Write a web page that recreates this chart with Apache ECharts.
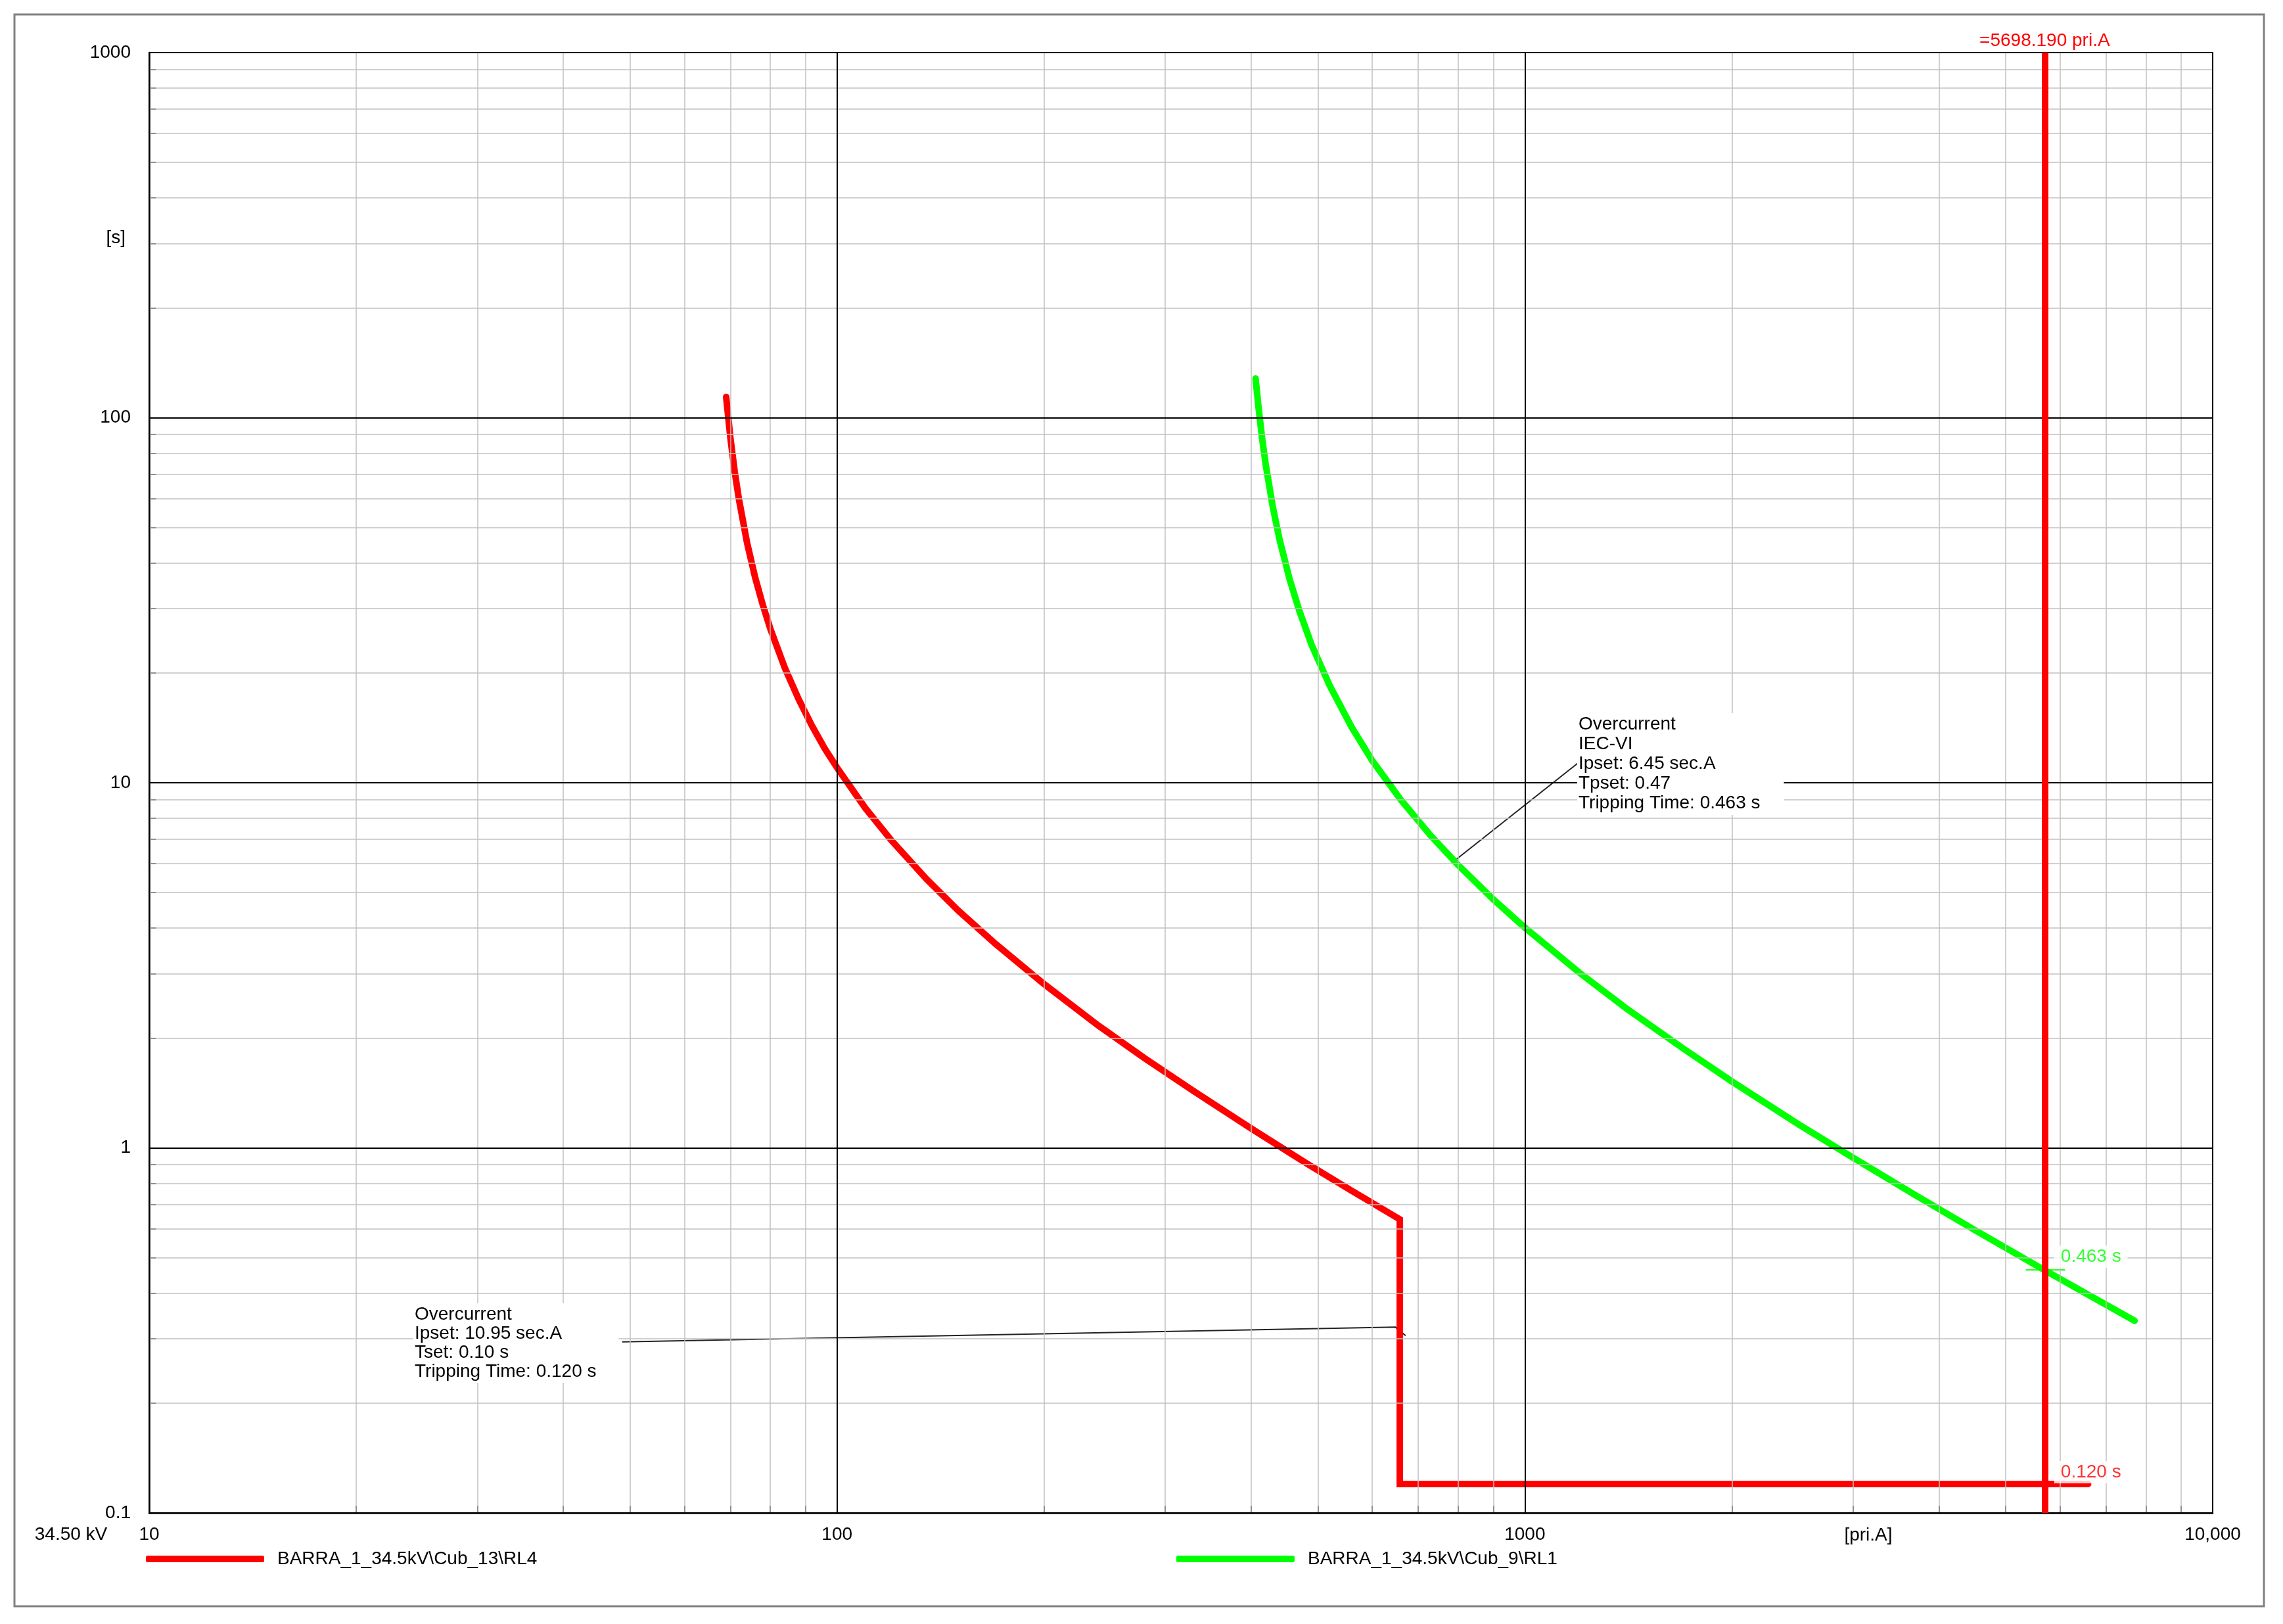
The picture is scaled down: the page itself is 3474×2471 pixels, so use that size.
<!DOCTYPE html>
<html>
<head>
<meta charset="utf-8">
<title>Coordinación de sobrecorriente</title>
<script src="https://cdn.jsdelivr.net/npm/echarts@6/dist/echarts.min.js"></script>
<style>
  html, body { margin: 0; padding: 0; background: #fff; }
  #chart { width: 3474px; height: 2471px; }
</style>
</head>
<body>
<div id="chart"></div>
<script>
// --- datos (corriente en A primarios, tiempo en s) ---
var redName = 'BARRA_1_34.5kV\\Cub_13\\RL4';
var redCurrent = [69, 70, 71, 72, 74, 76, 78, 80, 84, 88, 92, 96, 100, 110, 120, 135, 150, 170, 200, 240, 280, 330, 400, 480, 560, 658, 658, 6590];
var redTime = [114, 87.7, 71.2, 59.9, 45.4, 36.6, 30.7, 26.4, 20.6, 16.9, 14.3, 12.4, 11.0, 8.51, 6.95, 5.44, 4.47, 3.62, 2.81, 2.16, 1.76, 1.43, 1.13, 0.910, 0.763, 0.637, 0.120, 0.120];

var greenName = 'BARRA_1_34.5kV\\Cub_9\\RL1';
var greenCurrent = [406, 410, 415, 420, 430, 440, 455, 470, 490, 520, 560, 600, 660, 730, 800, 900, 1000, 1200, 1400, 1700, 2000, 2500, 3000, 3700, 4500, 5698, 6500, 7700];
var greenTime = [128, 106.8, 87.7, 74.4, 57.1, 46.3, 36.1, 29.6, 23.8, 18.5, 14.2, 11.5, 8.99, 7.16, 5.95, 4.79, 4.01, 3.02, 2.42, 1.87, 1.52, 1.16, 0.940, 0.741, 0.597, 0.462, 0.402, 0.336];

// corriente de falla (cursor) y tiempos de disparo
var faultCurrent = 5698.19;
var tripGreen = 0.463;
var tripRed = 0.120;

// líneas guía de las etiquetas
var greenLeaderX = [783, 1198];
var greenLeaderY = [6.03, 11.37];
var redLeaderX = [48.7, 648, 671];
var redLeaderY = [0.294, 0.323, 0.306];
var greenTickX = [5350, 6100];
var greenTickY = [0.463, 0.463];

// divisiones de los ejes
var xMajor = [10, 100, 1000, 10000];
var xMinor = [20, 30, 40, 50, 60, 70, 80, 90, 200, 300, 400, 500, 600, 700, 800, 900, 2000, 3000, 4000, 5000, 6000, 7000, 8000, 9000];
var yMajor = [0.1, 1, 10, 100, 1000];
var yMinor = [0.2, 0.3, 0.4, 0.5, 0.6, 0.7, 0.8, 0.9, 2, 3, 4, 5, 6, 7, 8, 9, 20, 30, 40, 50, 60, 70, 80, 90, 200, 300, 400, 500, 600, 700, 800, 900];

var font = '"Liberation Sans", Arial, sans-serif';

function zip(xs, ys) {
    return xs.map(function (x, i) { return [x, ys[i]]; });
}

function tickLabel(v) {
    if (v >= 10000) return '10,000';
    return String(v);
}

var chart = echarts.init(document.getElementById('chart'));

var option = {
    animation: false,
    backgroundColor: '#fff',
    textStyle: { fontFamily: font },
    grid: {
        left: 227, right: 107, top: 80, bottom: 169,
        show: true, borderColor: '#000', borderWidth: 2, backgroundColor: 'transparent'
    },
    legend: [
        {
            data: [redName], left: 222, top: 2358, padding: 0, selectedMode: false,
            icon: 'roundRect', itemWidth: 180, itemHeight: 10,
            textStyle: { fontSize: 28, fontFamily: font, color: '#000', padding: [0, 0, 0, 15] }
        },
        {
            data: [greenName], left: 1790, top: 2358, padding: 0, selectedMode: false,
            icon: 'roundRect', itemWidth: 180, itemHeight: 10,
            textStyle: { fontSize: 28, fontFamily: font, color: '#000', padding: [0, 0, 0, 15] }
        }
    ],
    xAxis: {
        type: 'log', logBase: 10, min: 10, max: 10000,
        axisLine: { show: true, lineStyle: { color: '#000', width: 2.5 } },
        axisTick: { show: true, inside: true, length: 11, customValues: xMinor, lineStyle: { color: '#000', width: 2 } },
        axisLabel: { customValues: xMajor, formatter: tickLabel, fontSize: 28, color: '#000', fontFamily: font, margin: 19 },
        splitLine: { show: false },
        minorTick: { show: false },
        minorSplitLine: { show: false }
    },
    yAxis: {
        type: 'log', logBase: 10, min: 0.1, max: 1000,
        axisLine: { show: true, lineStyle: { color: '#000', width: 2.5 } },
        axisTick: { show: true, inside: true, length: 10, customValues: yMinor, lineStyle: { color: '#000', width: 2 } },
        axisLabel: { customValues: yMajor, formatter: tickLabel, fontSize: 28, color: '#000', fontFamily: font, margin: 28 },
        splitLine: { show: false },
        minorTick: { show: false },
        minorSplitLine: { show: false }
    },
    graphic: [
        {
            type: 'rect', silent: true, z: -10,
            shape: { x: 22, y: 22, width: 3423, height: 2422 },
            style: { fill: 'none', stroke: '#808080', lineWidth: 3 }
        },
        {
            type: 'text', x: 191, y: 362, z: 50,
            style: { text: '[s]', fontSize: 28, fontFamily: font, fill: '#000', align: 'right', textAlign: 'right', verticalAlign: 'middle', textVerticalAlign: 'middle' }
        },
        {
            type: 'text', x: 108, y: 2335, z: 50,
            style: { text: '34.50 kV', fontSize: 28, fontFamily: font, fill: '#000', align: 'center', textAlign: 'center', verticalAlign: 'middle', textVerticalAlign: 'middle' }
        },
        {
            type: 'text', x: 2843, y: 2336, z: 50,
            style: { text: '[pri.A]', fontSize: 28, fontFamily: font, fill: '#000', align: 'center', textAlign: 'center', verticalAlign: 'middle', textVerticalAlign: 'middle' }
        },
        {
            type: 'text', x: 2400, y: 1085, z: 50,
            style: {
                text: 'Overcurrent\nIEC-VI\nIpset: 6.45 sec.A\nTpset: 0.47\nTripping Time: 0.463 s',
                fontSize: 28, lineHeight: 30, fontFamily: font, fill: '#000',
                backgroundColor: '#fff', padding: [2, 36, 3, 2],
                align: 'left', textAlign: 'left', verticalAlign: 'top', textVerticalAlign: 'top'
            }
        },
        {
            type: 'text', x: 629, y: 1983, z: 50,
            style: {
                text: 'Overcurrent\nIpset: 10.95 sec.A\nTset: 0.10 s\nTripping Time: 0.120 s',
                fontSize: 28, lineHeight: 29, fontFamily: font, fill: '#000',
                backgroundColor: '#fff', padding: [3, 34, 2, 2],
                align: 'left', textAlign: 'left', verticalAlign: 'top', textVerticalAlign: 'top'
            }
        }
    ],
    series: [
        // cuadrícula secundaria
        {
            type: 'line', data: [[10, 0.1]], showSymbol: false, silent: true, z: 1,
            lineStyle: { width: 0 },
            markLine: {
                silent: true, symbol: ['none', 'none'], label: { show: false },
                lineStyle: { color: '#c0c0c0', width: 1.5, type: 'solid' },
                emphasis: { disabled: true },
                data: xMinor.map(function (v) { return { xAxis: v }; })
                    .concat(yMinor.map(function (v) { return { yAxis: v }; }))
            }
        },
        // cuadrícula principal (décadas)
        {
            type: 'line', data: [[10, 0.1]], showSymbol: false, silent: true, z: 1,
            lineStyle: { width: 0 },
            markLine: {
                silent: true, symbol: ['none', 'none'], label: { show: false },
                lineStyle: { color: '#000', width: 2, type: 'solid' },
                emphasis: { disabled: true },
                data: xMajor.map(function (v) { return { xAxis: v }; })
                    .concat(yMajor.map(function (v) { return { yAxis: v }; }))
            }
        },
        // líneas guía
        {
            type: 'line', data: zip(greenLeaderX, greenLeaderY), showSymbol: false, silent: true, z: 2,
            lineStyle: { color: '#222', width: 2 }
        },
        {
            type: 'line', data: zip(redLeaderX, redLeaderY), showSymbol: false, silent: true, z: 2,
            lineStyle: { color: '#222', width: 2 }
        },
        // curvas de los relés
        {
            name: redName, type: 'line', data: zip(redCurrent, redTime), showSymbol: false, z: 3,
            itemStyle: { color: '#ff0000' },
            lineStyle: { color: '#ff0000', width: 10, cap: 'round', join: 'miter' }
        },
        {
            name: greenName, type: 'line', data: zip(greenCurrent, greenTime), showSymbol: false, z: 3,
            itemStyle: { color: '#00ff00' },
            lineStyle: { color: '#00ff00', width: 10, cap: 'round', join: 'round' }
        },
        {
            type: 'line', data: zip(greenTickX, greenTickY), showSymbol: false, silent: true, z: 4,
            lineStyle: { color: '#00ff00', width: 2 }
        },
        // cursor de corriente de falla
        {
            type: 'line', data: [[10, 0.1]], showSymbol: false, silent: true, z: 5,
            lineStyle: { width: 0 },
            markLine: {
                silent: true, symbol: ['none', 'none'],
                lineStyle: { color: '#ff0000', width: 10, type: 'solid' },
                emphasis: { disabled: true },
                label: {
                    show: true, position: 'end', distance: 2,
                    formatter: '=' + faultCurrent.toFixed(3) + ' pri.A',
                    color: '#ff0000', fontSize: 28, fontFamily: font,
                    backgroundColor: '#fff', padding: [2, 12, 2, 12]
                },
                data: [{ xAxis: faultCurrent }]
            }
        },
        // tiempos de disparo en el cursor
        {
            type: 'scatter', symbolSize: 1, silent: true, z: 6,
            itemStyle: { color: 'rgba(0,0,0,0)' },
            label: {
                show: true, position: 'right', distance: 14,
                fontSize: 28, fontFamily: font,
                backgroundColor: '#fff', padding: [3, 10, 3, 10]
            },
            data: [
                { value: [faultCurrent, tripGreen], label: { formatter: tripGreen.toFixed(3) + ' s', color: '#00ff00', offset: [0, -20] } },
                { value: [faultCurrent, tripRed], label: { formatter: tripRed.toFixed(3) + ' s', color: '#ff0000', offset: [0, -18] } }
            ]
        }
    ]
};

chart.setOption(option);
</script>
</body>
</html>
